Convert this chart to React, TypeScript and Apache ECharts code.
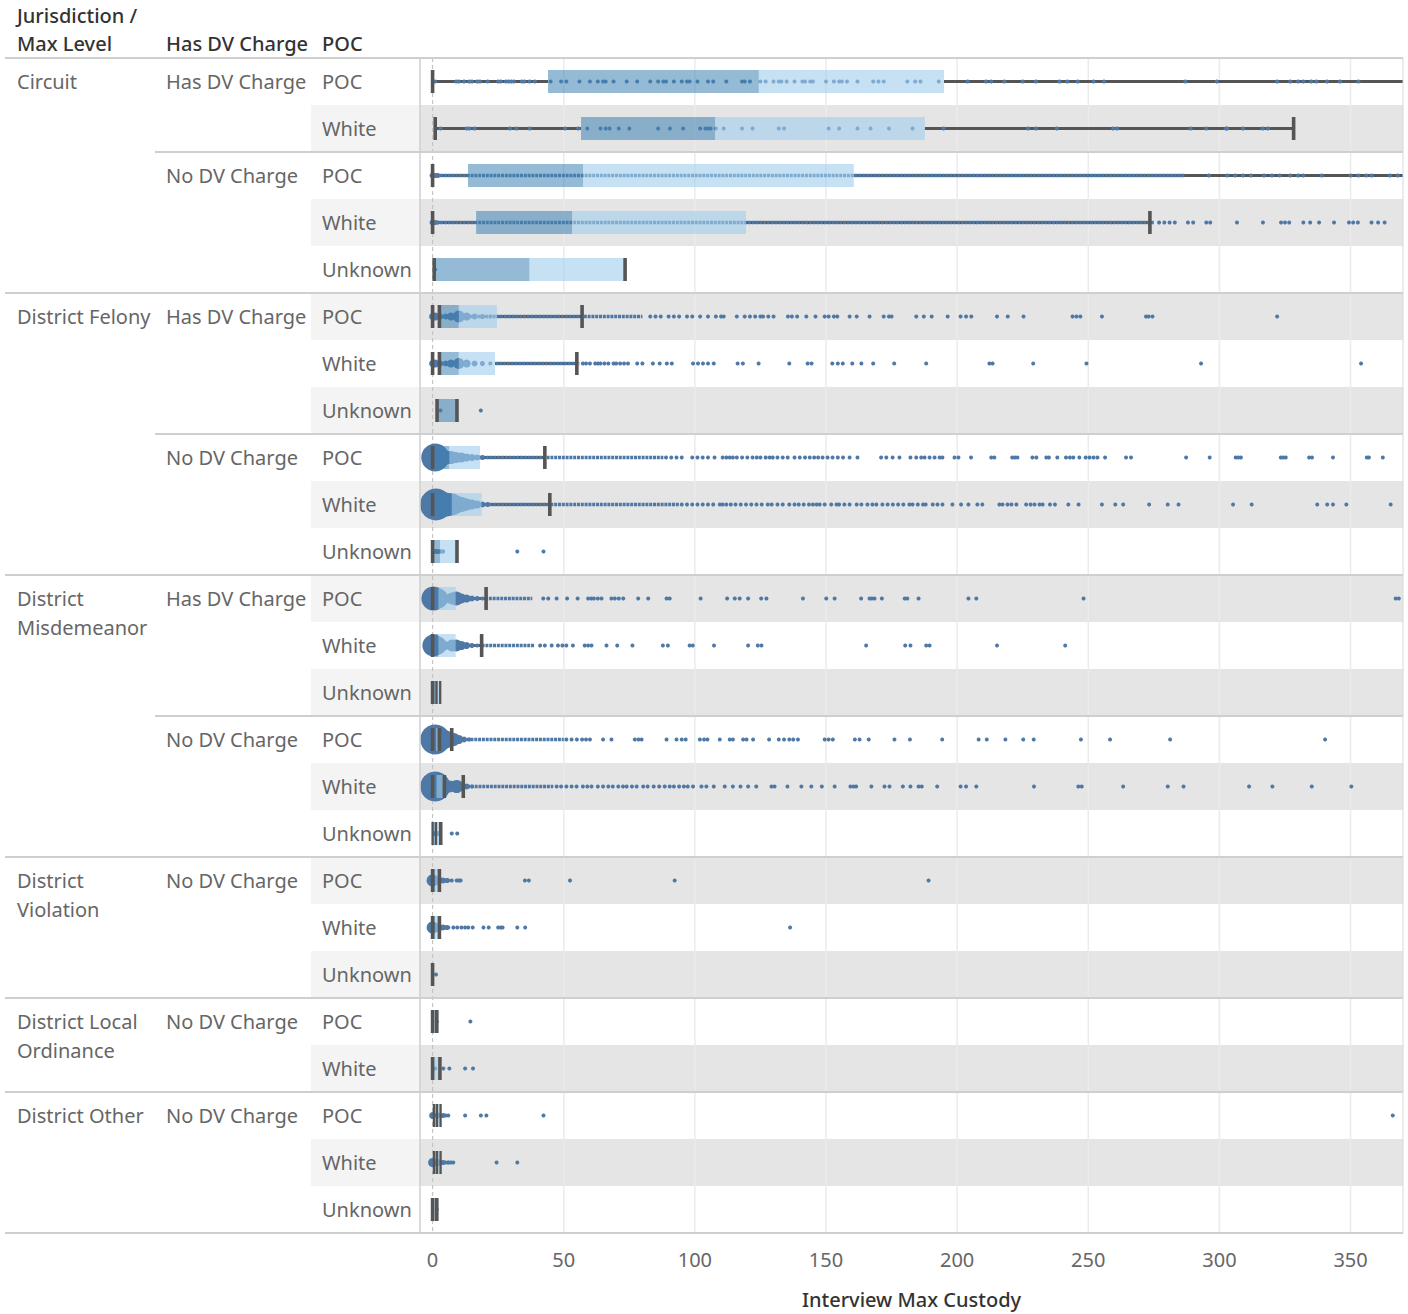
import React, { useEffect, useRef } from "react";
import * as echarts from "echarts";

const FONT = '"Noto Sans", "DejaVu Sans", sans-serif';

// ---------- categories ----------
const pocLabels = [
  "POC", "White", "POC", "White", "Unknown",
  "POC", "White", "Unknown", "POC", "White", "Unknown",
  "POC", "White", "Unknown", "POC", "White", "Unknown",
  "POC", "White", "Unknown",
  "POC", "White",
  "POC", "White", "Unknown",
];
const dvLabels = [
  "Has DV Charge", "", "No DV Charge", "", "",
  "Has DV Charge", "", "", "No DV Charge", "", "",
  "Has DV Charge", "", "", "No DV Charge", "", "",
  "No DV Charge", "", "",
  "No DV Charge", "",
  "No DV Charge", "", "",
];
const jurisdictionLabels = [
  "Circuit", "", "", "", "",
  "District Felony", "", "", "", "", "",
  "District\nMisdemeanor", "", "", "", "", "",
  "District\nViolation", "", "",
  "District Local\nOrdinance", "",
  "District Other", "", "",
];
const axisTicks = [0, 50, 100, 150, 200, 250, 300, 350];

// ---------- box plot statistics (one value per row) ----------
const lowWhisker = [0, 1, 0, 0, 0.6, 0, 0, 1.7, 0, 0, 0, 0, 0, 0, 0, 0, 0, 0, 0, 0, 0, 0, 0.5, 0.5, 0];
const q1 = [44, 56.6, 13.5, 16.6, 0.6, 2.6, 2.6, 1.7, 0.9, 0.9, 0.5, 0.9, 0.9, 0, 0.9, 0.9, 0, 0, 0, 0, 0, 0, 0.5, 0.5, 0];
const median = [124.4, 107.7, 57.4, 53.2, 37, 10, 10, 9.3, 6.4, 7.3, 2.9, 2.2, 2.2, 1.5, 1.3, 1.5, 1.3, 1, 1, 0.5, 0.8, 0.6, 1.7, 1.7, 0.8];
const q3 = [195, 187.7, 160.6, 119.5, 73.4, 24.5, 23.8, 9.3, 18.1, 18.7, 9.3, 8.8, 8.8, 2.9, 2.6, 4.5, 3.1, 2.6, 2.6, 0.5, 1.6, 2.6, 3.05, 3.05, 1.6];
const highWhisker = [400, 328.3, 400, 273.5, 73.4, 57, 55, 9.3, 42.8, 44.7, 9.3, 20.4, 18.7, 2.9, 7.3, 11.7, 3.1, 2.6, 2.6, 0.5, 1.6, 2.6, 3.05, 3.05, 1.6];

// whisker caps / dark marks per row
const capMarks = [
  [0], [1, 328.3], [0], [0, 273.5], [0.6, 73.4],
  [0, 2.6, 57], [0, 2.6, 55], [1.7, 9.3], [0, 42.8], [0, 44.7], [0, 9.3],
  [0, 20.4], [0, 18.7], [0, 1.5, 2.9], [0, 2.6, 7.3], [0, 4.5, 11.7], [0, 1.3, 3.1],
  [0, 2.6], [0, 2.6], [0],
  [0, 1.6], [0, 2.8],
  [0.5, 1.7, 3.05], [0.5, 1.7, 3.05], [0, 1.6],
];

// ---------- individual points ----------
const circuitDots = [
  [1, 9, 10, 12, 14, 15, 17, 18, 21, 25, 26, 28, 29, 30, 31, 34, 35, 37, 39, 45, 49, 51, 56, 60, 63, 65, 66, 69, 74, 78, 83, 86, 88, 89, 92, 95, 97, 98, 101, 105, 107, 112, 118, 119, 121, 125, 127, 130, 132, 133, 135, 138, 141, 142, 144, 145, 150, 153, 155, 156, 158, 162, 168, 170, 172, 181, 184, 186, 193, 204, 211, 213, 218, 225, 230, 239, 242, 246, 252, 256, 287, 299, 322, 327, 330, 332, 335, 337, 341, 346, 353],
  [3, 13, 14, 16, 29.5, 32, 37, 50.5, 55.5, 59, 64, 66, 67.5, 71, 75, 86, 90.5, 95.5, 102, 104, 105, 106, 108, 111, 118, 122, 132, 134, 151, 155, 162, 167, 174, 183, 194.8, 227, 230, 238, 259.5, 261, 289, 295, 302.5, 303, 309, 316.5, 318.5],
  [296, 303, 306, 309, 312, 317, 320, 323, 327, 330, 332, 339, 350, 353, 356, 358, 365, 368],
  [277, 279, 281, 283, 288, 290, 295, 296.5, 306.7, 316.6, 323.5, 325, 326.6, 332, 334.6, 338, 343.7, 349.4, 351, 352.8, 358, 360.5, 363],
  [1],
];
const felonyDots = [
  [83, 85, 87, 90, 92, 94, 97, 99, 102, 105, 108, 110, 111, 116, 119, 121, 123, 125, 126, 128, 130, 135.5, 137, 139, 142.5, 146, 149.5, 151, 153, 154.3, 159, 161.7, 166.6, 172, 174, 175, 184.4, 187.3, 190.3, 196.4, 201.3, 203.4, 205.4, 215.2, 219.3, 225.3, 244, 245.5, 247, 255.2, 272, 273, 274.5, 322],
  [57.3, 58.5, 60, 62, 63, 64, 65.5, 67, 69, 70, 71.5, 73, 74.5, 78, 80, 84, 86.6, 89.3, 91.2, 99.3, 101.2, 103.1, 105, 107.2, 116.3, 118.3, 124.3, 136, 143, 144.5, 152.4, 154.5, 156.4, 160, 163.5, 168, 176, 188.2, 212.3, 213.5, 229, 249.3, 293, 354],
  [3, 18.4],
  [89, 91, 93, 95, 99, 101, 103, 105, 107.5, 110.6, 112, 113.3, 114.5, 116, 118, 120, 122, 123.6, 125, 127, 128.5, 129.7, 131.5, 133.5, 135.4, 138, 140, 142, 143.8, 145.5, 147, 148.7, 150.6, 152.5, 154.5, 156.5, 159, 162, 171, 173, 175.4, 178, 182.2, 184.4, 186.3, 187.6, 189.5, 191.4, 193.3, 194.4, 199, 200.5, 205.3, 213, 214.2, 221, 222, 223, 228.7, 230.2, 234, 235, 238.2, 241.5, 243, 244.3, 246.6, 249, 250.5, 252, 253.5, 256.4, 264.4, 266.3, 287.3, 296.3, 306.2, 307.2, 308.2, 323.4, 324.3, 325.3, 334.2, 335.3, 343.3, 356.2, 357, 362.3],
  [95, 97, 99, 101, 103, 105, 107, 109.5, 110.6, 112, 113.7, 115.5, 117.5, 119.5, 121.5, 123.5, 125.5, 127.8, 129.3, 131.5, 133.5, 136, 138, 139.6, 141.5, 143.5, 145, 146.4, 147.6, 149.5, 152, 154, 155, 157, 159, 161.7, 163.5, 165.8, 167.7, 169.2, 171.5, 173.5, 175.5, 177.5, 179.5, 181.8, 183, 185, 187, 188, 190.7, 192.5, 194.4, 198.2, 201.5, 204.3, 207.7, 209.6, 216.1, 217.3, 219.2, 220.7, 222.6, 226.3, 228, 229.5, 231.4, 232.6, 235.4, 237.3, 242.4, 246.3, 255.2, 260.3, 263.3, 273.2, 280.3, 284.4, 305.2, 312.3, 337.3, 341.1, 343.3, 348.4, 365.3],
  [2, 3, 4, 32.3, 42.3],
];
const misdemeanorDots = [
  [42.2, 44.1, 47.3, 51.3, 55.3, 59.3, 60.5, 61.5, 63, 64.4, 68.2, 69.5, 71, 72.7, 78.4, 82.2, 89.2, 90.4, 102.2, 112.3, 115.2, 117.1, 120.3, 125.3, 127.3, 141.2, 150.1, 153.3, 163.4, 166.6, 167.5, 168.5, 171.3, 180, 181, 185.3, 204.3, 207.3, 248.2, 367.2, 368.4],
  [41, 42.8, 45.4, 47.8, 49.5, 51, 53.5, 58, 59.3, 60.6, 66.3, 70.4, 76.2, 87.8, 89.7, 98, 99.2, 107.3, 120.3, 124, 125.4, 165.3, 180.2, 182.2, 188.2, 189.5, 215.2, 241.2],
  [],
  [51, 53, 55, 57, 58.5, 60, 65, 68.2, 77.1, 78.5, 79.7, 89.2, 93, 95, 96.5, 101.9, 103.5, 104.8, 109.5, 113.3, 114.5, 118.4, 119.7, 122.2, 128.3, 132, 134, 136, 137.5, 139.3, 149.5, 151, 152.6, 161, 162.8, 166.3, 176.1, 182, 194.3, 208.2, 211.3, 218.4, 225.2, 229.2, 247.2, 258.3, 281.2, 340.3],
  [47.3, 49, 51, 53, 54.9, 57.3, 59, 60.6, 63, 65, 67, 68.7, 70.8, 72.6, 74, 76, 77.8, 80.3, 82, 84.3, 86.4, 88.5, 90.4, 92, 94, 95.8, 97.3, 99.3, 102.5, 104.4, 107.2, 111.4, 114.5, 117.4, 120.3, 123.4, 129.2, 130.4, 135.3, 140.6, 144.4, 148.4, 153.3, 159.3, 160.5, 161.5, 167.3, 172.3, 174.2, 179.3, 182.2, 185.3, 186.5, 192.4, 201.3, 203.4, 207.3, 229.3, 246.2, 247.5, 263.3, 280.3, 286.3, 311.3, 320.2, 335.2, 350.3],
  [7.3, 9.4],
];
const violationDots = [
  [3.5, 4.5, 5.2, 6, 7.3, 9.2, 10, 10.7, 35.2, 36.7, 52.4, 92.3, 189.1],
  [4.1, 5, 6, 7.9, 9.4, 11, 12.4, 13.6, 15.3, 19.4, 21.4, 25, 26, 26.7, 32.3, 35.3, 136.3],
  [1.3],
];
const ordinanceDots = [
  [1.6, 14.4],
  [4.1, 6.4, 12.4, 15.4],
];
const otherDots = [
  [4.1, 5, 6, 12.4, 18.4, 20.5, 42.3, 366.1],
  [4.1, 5, 6, 7, 7.9, 24.4, 32.3],
  [1.6],
];

// dense stretches of points: [row, from, to]
const denseRuns = [
  [2, 0, 287], [3, 0, 275], [5, 2.6, 80], [6, 24, 56], [8, 0, 88], [9, 0, 94],
  [11, 20, 38], [12, 18.7, 39], [14, 13, 50], [15, 11.7, 46],
];

// stacked points near zero sized by count: [row, value, diameter]
const densityBubbles = [
  [2, 0, 6], [2, 1, 5], [2, 2, 5],
  [3, 0, 6], [3, 1, 5], [3, 2, 4],
  [5, 0, 7], [5, 1, 8], [5, 3, 6], [5, 5, 6], [5, 7, 8], [5, 10, 12], [5, 13, 8], [5, 16, 6], [5, 19, 5], [5, 22, 4],
  [6, 0, 7], [6, 1, 8], [6, 3, 6], [6, 5, 6], [6, 7, 8], [6, 10, 11], [6, 13, 8], [6, 16, 6], [6, 19, 5], [6, 22, 4],
  [8, 1, 28], [8, 5, 14], [8, 7, 13], [8, 9, 11], [8, 11, 10], [8, 13, 8], [8, 15, 7], [8, 17, 6], [8, 19, 5],
  [9, 1.3, 32], [9, 5, 24], [9, 7.3, 22], [9, 9, 18], [9, 11, 15], [9, 13, 12], [9, 15, 10], [9, 17, 8], [9, 19, 6], [9, 21, 5],
  [10, 1, 5], [10, 2, 5], [10, 3, 4], [10, 4, 4],
  [11, 0.3, 24], [11, 2, 20], [11, 3.5, 14], [11, 5.5, 8], [11, 7.5, 12], [11, 9, 14], [11, 11, 10], [11, 13, 8], [11, 15, 6], [11, 17, 5], [11, 19, 4],
  [12, 0.3, 22], [12, 2, 18], [12, 3.5, 12], [12, 5.5, 8], [12, 7.5, 12], [12, 9, 12], [12, 11, 9], [12, 13, 7], [12, 15, 5], [12, 17, 4],
  [14, 1, 30], [14, 4, 20], [14, 6, 16], [14, 8, 13], [14, 10, 9], [14, 12, 6], [14, 14, 4],
  [15, 1, 30], [15, 4, 16], [15, 6.5, 12], [15, 9.2, 13], [15, 11, 9], [15, 13, 6], [15, 15, 4],
  [16, 1, 5], [16, 2, 5],
  [17, 0, 12], [17, 2, 9], [17, 4, 6], [17, 5.5, 5],
  [18, 0, 12], [18, 2, 9], [18, 4, 6], [18, 5.5, 5],
  [21, 1, 4],
  [22, 0, 7], [22, 2, 6], [22, 4, 5],
  [23, 0, 9], [23, 2, 7], [23, 4, 5], [23, 6, 4],
];

const DOT = "#4e79a7";
const LOWER = "rgba(60,130,180,0.55)";
const UPPER = "rgba(160,205,235,0.6)";
const DARK = "#555555";

export default function App() {
  const ref = useRef<HTMLDivElement>(null);

  useEffect(() => {
    if (!ref.current) return;
    const chart = echarts.init(ref.current, null, { renderer: "svg" });
    const rowIds = pocLabels.map((_, i) => String(i));
    const allDots = [...circuitDots, ...felonyDots, ...misdemeanorDots, ...violationDots, ...ordinanceDots, ...otherDots];
    const dotData: number[][] = [];
    allDots.forEach((list, row) => list.forEach((v) => dotData.push([v, row])));
    const bandRows = rowIds.map((_, i) => i).filter((i) => i % 2 === 1).map((i) => [0, i]);
    // caps that sit very close to a neighbour are drawn thinner (flag 1)
    const capData = capMarks.flatMap((list, row) =>
      list.map((v) => {
        const near = list.some((o) => o !== v && Math.abs(o - v) < 1.45);
        return [row, v, near ? 1 : 0];
      })
    );

    const clampX = (x: number, cs: any) => Math.max(cs.x, Math.min(cs.x + cs.width, x));

    const option: any = {
      animation: false,
      grid: { left: 420, right: 5, top: 58, bottom: 79 },
      xAxis: {
        type: "value",
        min: -4.8,
        max: 370,
        axisLine: { show: false },
        axisTick: { show: false },
        splitLine: { show: false },
        axisLabel: { customValues: axisTicks, color: "#666", fontSize: 20, fontFamily: FONT, margin: 16 },
        name: "Interview Max Custody",
        nameLocation: "middle",
        nameGap: 56,
        nameTextStyle: { color: "#333", fontSize: 20, fontFamily: FONT, fontWeight: 500 },
      },
      yAxis: {
        type: "category",
        data: rowIds,
        inverse: true,
        axisLine: { show: false },
        axisTick: { show: false },
        axisLabel: { show: false },
        splitLine: { show: false },
      },
      series: [
        {
          type: "custom",
          z: 1,
          silent: true,
          data: bandRows,
          encode: { x: 0, y: 1 },
          renderItem: (params: any, api: any) => {
            const cs = params.coordSys;
            const y = api.coord([0, api.value(1)])[1];
            const h = api.size([0, 1])[1];
            return { type: "rect", shape: { x: cs.x, y: y - h / 2, width: cs.width, height: h }, style: { fill: "#e5e5e5" } };
          },
        },
        {
          type: "custom",
          z: 2,
          silent: true,
          data: axisTicks.map((v) => [v, 0]),
          encode: { x: 0, y: 1 },
          renderItem: (params: any, api: any) => {
            const cs = params.coordSys;
            const v = api.value(0);
            const x = api.coord([v, 0])[0];
            return {
              type: "line",
              shape: { x1: x, y1: cs.y, x2: x, y2: cs.y + cs.height },
              style: v === 0
                ? { stroke: "#c4c4c4", lineWidth: 1.2, lineDash: [4, 3] }
                : { stroke: "#ebebeb", lineWidth: 1.5 },
            };
          },
        },
        {
          type: "custom",
          z: 3,
          silent: true,
          data: rowIds.map((_, i) => [i, lowWhisker[i], q1[i], q3[i], highWhisker[i]]),
          encode: { x: [1, 2, 3, 4], y: 0 },
          renderItem: (params: any, api: any) => {
            const cs = params.coordSys;
            const row = api.value(0);
            const y = api.coord([0, row])[1];
            const xl = clampX(api.coord([api.value(1), row])[0], cs);
            const xq1 = clampX(api.coord([api.value(2), row])[0], cs);
            const xq3 = clampX(api.coord([api.value(3), row])[0], cs);
            const xh = clampX(api.coord([api.value(4), row])[0], cs);
            return {
              type: "group",
              children: [
                { type: "line", shape: { x1: xl, y1: y, x2: xq1, y2: y }, style: { stroke: DARK, lineWidth: 2.8 } },
                { type: "line", shape: { x1: xq3, y1: y, x2: xh, y2: y }, style: { stroke: DARK, lineWidth: 2.8 } },
              ],
            };
          },
        },
        {
          type: "custom",
          z: 4,
          silent: true,
          data: denseRuns,
          encode: { x: [1, 2], y: 0 },
          renderItem: (params: any, api: any) => {
            const cs = params.coordSys;
            const row = api.value(0);
            const a = api.coord([api.value(1), row]);
            const b = api.coord([api.value(2), row]);
            return {
              type: "line",
              shape: { x1: clampX(a[0], cs), y1: a[1], x2: clampX(b[0], cs), y2: b[1] },
              style: { stroke: DOT, lineWidth: 3.6, lineDash: [3, 0.8] },
            };
          },
        },
        {
          type: "scatter",
          z: 5,
          silent: true,
          data: densityBubbles.map((d) => [d[1], d[0], d[2]]),
          symbolSize: (d: number[]) => d[2],
          itemStyle: { color: DOT, opacity: 1 },
        },
        {
          type: "scatter",
          z: 5,
          silent: true,
          data: dotData,
          symbolSize: 4,
          itemStyle: { color: DOT, opacity: 1 },
        },
        {
          type: "custom",
          z: 6,
          silent: true,
          data: rowIds.map((_, i) => [i, q1[i], median[i], q3[i]]),
          encode: { x: [1, 2, 3], y: 0 },
          renderItem: (params: any, api: any) => {
            const row = api.value(0);
            const c1 = api.coord([api.value(1), row]);
            const c2 = api.coord([api.value(2), row]);
            const c3 = api.coord([api.value(3), row]);
            const bh = api.size([0, 1])[1] * 0.49;
            return {
              type: "group",
              children: [
                { type: "rect", shape: { x: c1[0], y: c1[1] - bh / 2, width: Math.max(0, c2[0] - c1[0]), height: bh }, style: { fill: LOWER } },
                { type: "rect", shape: { x: c2[0], y: c2[1] - bh / 2, width: Math.max(0, c3[0] - c2[0]), height: bh }, style: { fill: UPPER } },
              ],
            };
          },
        },
        {
          type: "custom",
          z: 7,
          silent: true,
          data: capData,
          encode: { x: 1, y: 0 },
          renderItem: (params: any, api: any) => {
            const row = api.value(0);
            const c = api.coord([api.value(1), row]);
            const bh = api.size([0, 1])[1] * 0.49;
            const w = api.value(2) ? 2.3 : 3.6;
            return { type: "rect", shape: { x: c[0] - w / 2, y: c[1] - bh / 2, width: w, height: bh }, style: { fill: DARK } };
          },
        },
      ],
    };
    chart.setOption(option);

    // second pass: headers, row labels, banding of label column, separators
    const ys = rowIds.map((_, i) => (chart.convertToPixel({ gridIndex: 0 }, [0, i]) as number[])[1]);
    const half = (ys[1] - ys[0]) / 2;
    const PLOT_L = 420;
    const PLOT_R = 1403;
    const g: any[] = [];
    const txt = (text: string, x: number, y: number, fill: string, weight: any = "normal") => ({
      type: "text",
      x,
      y,
      z: 50,
      silent: true,
      style: {
        text,
        fill,
        fontSize: 20,
        fontFamily: FONT,
        fontWeight: weight,
        align: "left",
        verticalAlign: "middle",
        textAlign: "left",
        textVerticalAlign: "middle",
      },
    });
    rowIds.forEach((_, i) => {
      if (i % 2 === 1) {
        g.push({ type: "rect", z: 1, silent: true, shape: { x: 311, y: ys[i] - half, width: PLOT_L - 311, height: 2 * half }, style: { fill: "#f4f4f4" } });
      }
      g.push(txt(pocLabels[i], 322, ys[i], "#666"));
      if (dvLabels[i]) g.push(txt(dvLabels[i], 166, ys[i], "#666"));
      if (jurisdictionLabels[i]) {
        jurisdictionLabels[i].split("\n").forEach((line, k) => g.push(txt(line, 17, ys[i] + k * 29, "#666")));
      }
      if (i > 0) {
        const yb = ys[i] - half;
        if (jurisdictionLabels[i]) {
          g.push({ type: "line", z: 60, silent: true, shape: { x1: 5, y1: yb, x2: PLOT_R, y2: yb }, style: { stroke: "#cfcfcf", lineWidth: 2 } });
        } else if (dvLabels[i]) {
          g.push({ type: "line", z: 60, silent: true, shape: { x1: 155, y1: yb, x2: PLOT_R, y2: yb }, style: { stroke: "#cfcfcf", lineWidth: 2 } });
        }
      }
    });
    const top = ys[0] - half;
    const bottom = ys[ys.length - 1] + half;
    g.push({ type: "line", z: 60, silent: true, shape: { x1: 5, y1: top, x2: PLOT_R, y2: top }, style: { stroke: "#cfcfcf", lineWidth: 2 } });
    g.push({ type: "line", z: 60, silent: true, shape: { x1: 5, y1: bottom, x2: PLOT_R, y2: bottom }, style: { stroke: "#cfcfcf", lineWidth: 2 } });
    g.push({ type: "line", z: 60, silent: true, shape: { x1: PLOT_L, y1: top, x2: PLOT_L, y2: bottom }, style: { stroke: "#cfcfcf", lineWidth: 1.5 } });
    g.push({ type: "line", z: 60, silent: true, shape: { x1: PLOT_R, y1: top, x2: PLOT_R, y2: bottom }, style: { stroke: "#d8d8d8", lineWidth: 1 } });
    g.push(txt("Jurisdiction /", 17, 15, "#333", 500));
    g.push(txt("Max Level", 17, 43, "#333", 500));
    g.push(txt("Has DV Charge", 166, 43, "#333", 500));
    g.push(txt("POC", 322, 43, "#333", 500));
    chart.setOption({ graphic: g });

    return () => chart.dispose();
  }, []);

  return <div ref={ref} style={{ position: "absolute", left: 0, top: 0, width: 1408, height: 1314 }} />;
}
